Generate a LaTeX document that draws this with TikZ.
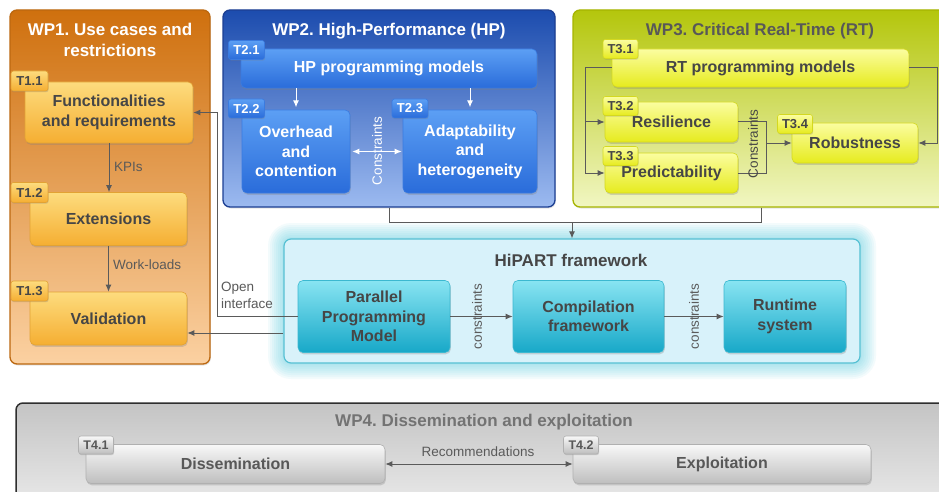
\documentclass[tikz,border=0pt]{standalone}
\usepackage{fontspec}
\setmainfont{Liberation Sans}
\usetikzlibrary{arrows.meta,shadows}
\frenchspacing

\definecolor{txtdark}{HTML}{464646}
\definecolor{conncol}{HTML}{5A5A5A}
% work package 1 (orange)
\definecolor{wpOneTop}{HTML}{CF700E}
\definecolor{wpOneBot}{HTML}{FBD1A2}
\definecolor{wpOneLine}{HTML}{BC6810}
\definecolor{tOneTop}{HTML}{FDDC7E}
\definecolor{tOneBot}{HTML}{F5AE32}
\definecolor{tOneLine}{HTML}{E2A234}
% work package 2 (blue)
\definecolor{wpTwoTop}{HTML}{1C4CAE}
\definecolor{wpTwoBot}{HTML}{9CBAF0}
\definecolor{wpTwoLine}{HTML}{1C3F93}
\definecolor{tTwoTop}{HTML}{5C9FF4}
\definecolor{tTwoBot}{HTML}{2A6CDA}
\definecolor{tTwoLine}{HTML}{3A7BE0}
% work package 3 (yellow-green)
\definecolor{wpThreeTop}{HTML}{B4C60C}
\definecolor{wpThreeBot}{HTML}{F1F6C2}
\definecolor{wpThreeLine}{HTML}{A6B400}
\definecolor{tThreeTop}{HTML}{FBFDA0}
\definecolor{tThreeBot}{HTML}{E6EB1E}
\definecolor{tThreeLine}{HTML}{D4D820}
% framework (cyan)
\definecolor{hipFill}{HTML}{D8F2FA}
\definecolor{hipLine}{HTML}{55C0D3}
\definecolor{hipGlow}{HTML}{3CC4DC}
\definecolor{hTop}{HTML}{88E4F2}
\definecolor{hBot}{HTML}{17A8C8}
\definecolor{hLine}{HTML}{3CB8D0}
% work package 4 (grey)
\definecolor{wpFourTop}{HTML}{C4C4C4}
\definecolor{wpFourBot}{HTML}{EEEEEE}
\definecolor{wpFourLine}{HTML}{2E2E2E}
\definecolor{tFourTop}{HTML}{F8F8F8}
\definecolor{tFourBot}{HTML}{BEBEBE}
\definecolor{tFourLine}{HTML}{B0B0B0}

\newcommand\wptitlefont{\fontsize{17}{20.5}\selectfont\bfseries}
\newcommand\taskfont{\fontsize{16}{19.5}\selectfont\bfseries}
\newcommand\tagfont{\fontsize{13}{14}\selectfont\bfseries}
\newcommand\lblfont{\fontsize{13.5}{17}\selectfont}

\begin{document}
\begin{tikzpicture}[x=1pt,y=-1pt,
  wpbox/.style={rounded corners=7pt, line width=1.3pt, inner sep=0pt},
  task/.style={rounded corners=5pt, align=center, font=\taskfont, inner sep=2pt,
    line width=0.6pt, drop shadow={opacity=0.3, shadow xshift=0.8pt, shadow yshift=-1.8pt}},
  tag/.style={rounded corners=2.5pt, font=\tagfont, inner sep=0pt,
    minimum width=36, minimum height=19, line width=0.6pt,
    drop shadow={opacity=0.3, shadow xshift=0.6pt, shadow yshift=-1.2pt}},
  grpone/.style={top color=tOneTop, bottom color=tOneBot, draw=tOneLine, text=txtdark},
  grptwo/.style={top color=tTwoTop, bottom color=tTwoBot, draw=tTwoLine, text=white},
  grpthree/.style={top color=tThreeTop, bottom color=tThreeBot, draw=tThreeLine, text=txtdark},
  grphip/.style={top color=hTop, bottom color=hBot, draw=hLine, text=txtdark},
  grpfour/.style={top color=tFourTop, bottom color=tFourBot, draw=tFourLine, text=txtdark!90!white},
  conn/.style={draw=conncol, line width=1pt},
  arr/.style={-{Latex[length=7pt,width=6pt]}},
  darr/.style={{Latex[length=7pt,width=6pt]}-{Latex[length=7pt,width=6pt]}},
  lbl/.style={font=\lblfont, text=conncol, inner sep=0pt},
  wptitle/.style={font=\wptitlefont, align=center, inner sep=0pt}]

\useasboundingbox (0,0) rectangle (939,492);
\fill[white] (0,0) rectangle (939,492);
\clip (0,0) rectangle (939,492);

% ---------- work package frames ----------
\node[wpbox, top color=wpOneTop, bottom color=wpOneBot, draw=wpOneLine,
  minimum width=200, minimum height=354,
  drop shadow={opacity=0.2, shadow xshift=0.8pt, shadow yshift=-1.5pt}] (wp1) at (110,187) {};
\node[wpbox, top color=wpTwoTop, bottom color=wpTwoBot, draw=wpTwoLine,
  minimum width=332, minimum height=197,
  drop shadow={opacity=0.2, shadow xshift=0.8pt, shadow yshift=-1.5pt}] (wp2) at (389,108.5) {};
\node[wpbox, top color=wpThreeTop, bottom color=wpThreeBot, draw=wpThreeLine,
  minimum width=376, minimum height=197,
  drop shadow={opacity=0.2, shadow xshift=0.8pt, shadow yshift=-1.5pt}] (wp3) at (761,108.5) {};
\node[wpbox, top color=wpFourTop, bottom color=wpFourBot, draw=wpFourLine, line width=1.5pt,
  minimum width=944, minimum height=117] (wp4) at (488,461.5) {};

\node[wptitle, text=white] (wp1t) at (110,40) {WP1. Use cases and\\restrictions};
\node[wptitle, text=white] (wp2t) at (389,31) {WP2. High-Performance (HP)};
\node[wptitle, text=txtdark!90!white] (wp3t) at (760,31) {WP3. Critical Real-Time (RT)};
\node[wptitle, text=black!55] (wp4t) at (484,422) {WP4. Dissemination and exploitation};

% ---------- framework frame with glow ----------
\foreach \d in {16,14,...,2}{
  \pgfmathsetmacro\rr{7+\d}
  \fill[hipGlow, opacity=0.06, rounded corners=\rr pt] (284-\d,239-\d) rectangle (860+\d,363+\d);
}
\node[wpbox, fill=hipFill, draw=hipLine, line width=1.2pt,
  minimum width=576, minimum height=124] (hip) at (572,301) {};
\node[wptitle, text=txtdark] (hipt) at (571,260) {HiPART framework};

% ---------- WP1 tasks ----------
\node[task, grpone, minimum width=168, minimum height=61] (t11) at (109,112.5) {Functionalities\\and requirements};
\node[task, grpone, minimum width=157, minimum height=53] (t12) at (108.5,219) {Extensions};
\node[task, grpone, minimum width=157, minimum height=53] (t13) at (108.5,318.5) {Validation};
\node[tag, grpone, minimum width=37, minimum height=20] (g11) at (29.5,81) {T1.1};
\node[tag, grpone, minimum width=37, minimum height=20] (g12) at (29.5,192.5) {T1.2};
\node[tag, grpone, minimum width=37, minimum height=20] (g13) at (29.5,291) {T1.3};

% ---------- WP2 tasks ----------
\node[task, grptwo, minimum width=296, minimum height=39] (t21) at (389,68.5) {HP programming models};
\node[task, grptwo, minimum width=108, minimum height=83] (t22) at (296,151.5) {Overhead\\and\\contention};
\node[task, grptwo, minimum width=134, minimum height=83] (t23) at (470,151.5) {Adaptability\\and\\heterogeneity};
\node[tag, grptwo] (g21) at (246.5,50) {T2.1};
\node[tag, grptwo] (g22) at (246.5,108.5) {T2.2};
\node[tag, grptwo] (g23) at (410,108.5) {T2.3};

% ---------- WP3 tasks ----------
\node[task, grpthree, minimum width=297, minimum height=38] (t31) at (760.5,68) {RT programming models};
\node[task, grpthree, minimum width=133, minimum height=40] (t32) at (671.5,122) {Resilience};
\node[task, grpthree, minimum width=133, minimum height=40] (t33) at (671.5,173) {Predictability};
\node[task, grpthree, minimum width=126, minimum height=40] (t34) at (855,143) {Robustness};
\node[tag, grpthree, minimum width=35] (g31) at (620.5,49) {T3.1};
\node[tag, grpthree, minimum width=35] (g32) at (620.5,106) {T3.2};
\node[tag, grpthree, minimum width=35] (g33) at (620.5,156) {T3.3};
\node[tag, grpthree, minimum width=35] (g34) at (795,124) {T3.4};

% ---------- framework components ----------
\node[task, grphip, minimum width=152, minimum height=72] (ppm) at (374,316.5) {Parallel\\Programming\\Model};
\node[task, grphip, minimum width=151, minimum height=72] (cmp) at (588.5,316.5) {Compilation\\framework};
\node[task, grphip, minimum width=122, minimum height=72] (rts) at (785,316.5) {Runtime\\system};

% ---------- WP4 tasks ----------
\node[task, grpfour, minimum width=299, minimum height=39] (t41) at (235.5,464) {Dissemination};
\node[task, grpfour, minimum width=298, minimum height=39] (t42) at (722,464) {Exploitation};
\node[tag, grpfour, font=\fontsize{12.5}{14}\selectfont\bfseries, minimum width=35, minimum height=18] (g41) at (96,445) {T4.1};
\node[tag, grpfour, font=\fontsize{12.5}{14}\selectfont\bfseries, minimum width=35, minimum height=18] (g42) at (581,445) {T4.2};

% ---------- connectors: WP1 ----------
\draw[conn, arr] (t11.south) -- (t11.south |- t12.north);
\node[lbl, anchor=west] (kpi) at (114,167) {KPIs};
\draw[conn, arr] (t12.south) -- (t12.south |- t13.north);
\node[lbl, anchor=west] (wl) at (113,265) {Work-loads};

% ---------- connectors: WP2 ----------
\draw[white, line width=1pt, arr] (t22.north |- t21.south) -- ++(0,19);
\draw[white, line width=1pt, arr] (t23.north |- t21.south) -- ++(0,19);
\draw[white, line width=1pt, darr] (t22.east) ++(2,0) -- ([xshift=-1pt]t23.west);
\node[lbl, text=white, rotate=90] (c2) at (377,151) {Constraints};

% ---------- connectors: WP3 ----------
\coordinate (lb) at (585,0);
\coordinate (rb) at (937,0);
\coordinate (mj) at (766,143);
\draw[conn, arr] (t31.west) -- (t31.west -| lb) |- (t32.west);
\draw[conn, arr] (t31.west -| lb) |- (t33.west);
\draw[conn, arr] (t31.east) -- (t31.east -| rb) |- (t34.east);
\draw[conn] (t32.east) -| (mj);
\draw[conn] (t33.east) -| (mj);
\draw[conn, arr] (mj) -- (t34.west);
\node[lbl, text=txtdark, rotate=90] (c3) at (753,144) {Constraints};

% ---------- connectors: into the framework ----------
\coordinate (jn) at (572,222);
\draw[conn] (wp2.south) |- (jn);
\draw[conn] (wp3.south) |- (jn);
\draw[conn, arr] (jn) -- (hip.north);

\draw[conn, arr] (ppm.east) -- (cmp.west);
\node[lbl, rotate=90] (c4) at (477,316.5) {constraints};
\draw[conn, arr] (cmp.east) -- (rts.west);
\node[lbl, rotate=90] (c5) at (694,316.5) {constraints};

% ---------- connectors: framework back to WP1 ----------
\coordinate (oi) at (217,0);
\draw[conn, arr] (ppm.west) -- (ppm.west -| oi) |- (t11.east);
\node[lbl, anchor=west, align=left] (oil) at (221,295.5) {Open\\interface};
\coordinate (vb) at (0,333);
\draw[conn, arr] (vb -| hip.west) -- (vb -| t13.east);

% ---------- connectors: WP4 ----------
\draw[conn, darr] (t41.east) -- (t42.west);
\node[lbl] (rec) at (478,452) {Recommendations};

\end{tikzpicture}
\end{document}
